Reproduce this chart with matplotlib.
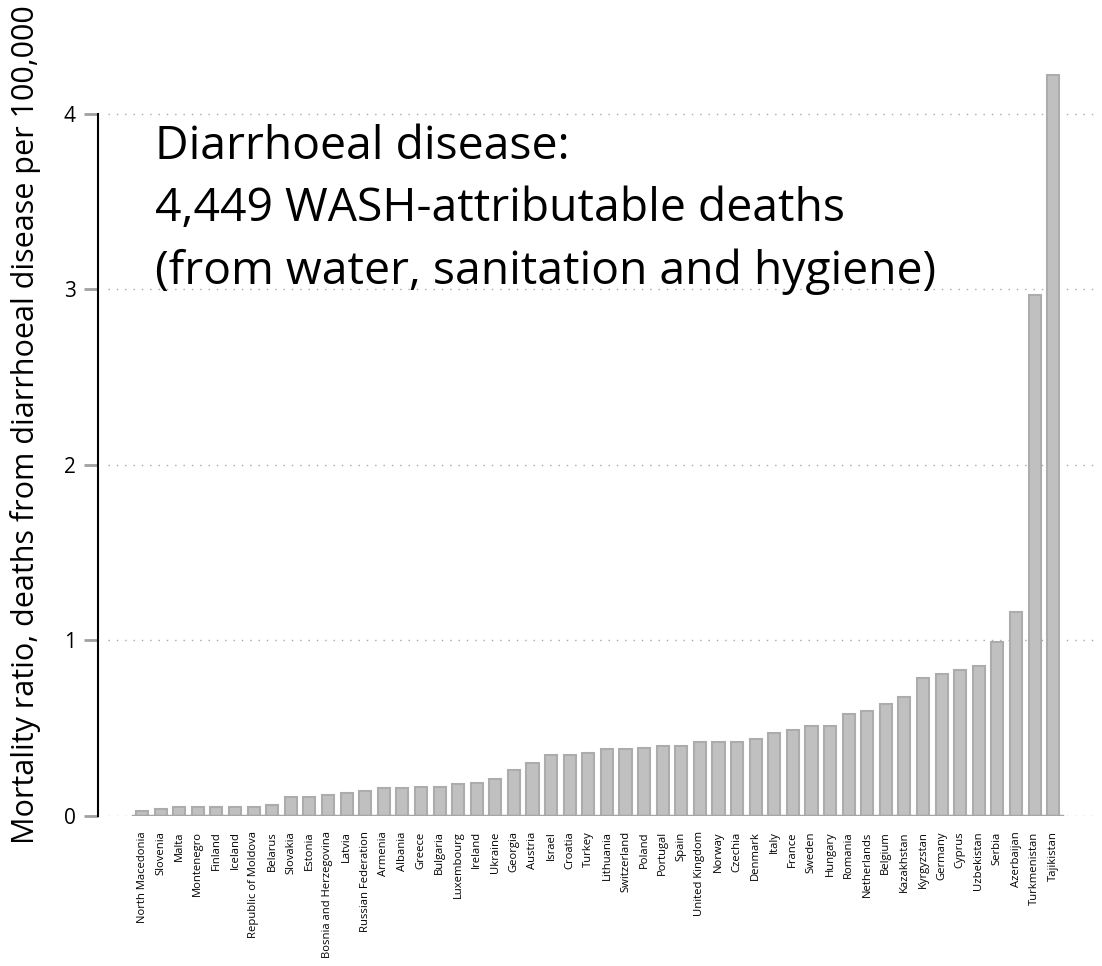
import matplotlib.pyplot as plt

countries = ["North Macedonia", "Slovenia", "Malta", "Montenegro", "Finland", "Iceland",
             "Republic of Moldova", "Belarus", "Slovakia", "Estonia", "Bosnia and Herzegovina",
             "Latvia", "Russian Federation", "Armenia", "Albania", "Greece", "Bulgaria",
             "Luxembourg", "Ireland", "Ukraine", "Georgia", "Austria", "Israel", "Croatia",
             "Turkey", "Lithuania", "Switzerland", "Poland", "Portugal", "Spain",
             "United Kingdom", "Norway", "Czechia", "Denmark", "Italy", "France", "Sweden",
             "Hungary", "Romania", "Netherlands", "Belgium", "Kazakhstan", "Kyrgyzstan",
             "Germany", "Cyprus", "Uzbekistan", "Serbia", "Azerbaijan", "Turkmenistan",
             "Tajikistan"]
mortality = [0.03, 0.04, 0.05, 0.05, 0.05, 0.05,
             0.05, 0.06, 0.11, 0.11, 0.12,
             0.13, 0.14, 0.16, 0.16, 0.165, 0.165,
             0.18, 0.19, 0.21, 0.26, 0.30, 0.35, 0.35,
             0.36, 0.38, 0.38, 0.39, 0.40, 0.40,
             0.42, 0.42, 0.42, 0.44, 0.47, 0.49, 0.51,
             0.51, 0.58, 0.60, 0.64, 0.68, 0.785,
             0.81, 0.83, 0.856, 0.99, 1.16, 2.97,
             4.22]
yticks = [0, 1, 2, 3, 4]

plt.rcParams['font.family'] = ['Open Sans', 'DejaVu Sans']

fig = plt.figure(figsize=(11.02, 9.66), dpi=100)
ax = fig.add_axes([0.0889, 0.1553, 0.909, 0.8178])

x = list(range(len(countries)))
ax.bar(x, mortality, width=0.65, color='#c0c0c0', edgecolor='#acacac', linewidth=1.5, zorder=3)

# baseline under the bars
ax.plot([-0.5, len(countries) - 0.5], [0, 0], color='#a6a6a6', lw=2.5, zorder=4)

ax.set_xlim(-2.37, 51.5)
ax.set_ylim(0, 4.5)
ax.set_yticks(yticks)
ax.set_yticklabels([str(t) for t in yticks], fontsize=15)
ax.set_xticks(x)
ax.set_xticklabels(countries, rotation=90, fontsize=8.1)
ax.tick_params(axis='x', length=0, pad=11)
ax.tick_params(axis='y', length=10, width=2, color='#a0a0a0', pad=6)

for t in yticks:
    ax.axhline(t, xmin=0.01, color='#a8a8a8', lw=1, ls=(0, (1, 5)), zorder=1)

for s in ['top', 'right', 'bottom']:
    ax.spines[s].set_visible(False)
ax.spines['left'].set_bounds(0, 4)
ax.spines['left'].set_linewidth(1.5)

ax.set_ylabel("Mortality ratio, deaths from diarrhoeal disease per 100,000", fontsize=22)
ax.yaxis.set_label_coords(-0.057, 0.495)

ax.text(0.7, 3.94, "Diarrhoeal disease:\n4,449 WASH-attributable deaths\n(from water, sanitation and hygiene)",
        fontsize=33.3, va='top', ha='left', linespacing=1.45)

fig.savefig("out.png", dpi=100)
